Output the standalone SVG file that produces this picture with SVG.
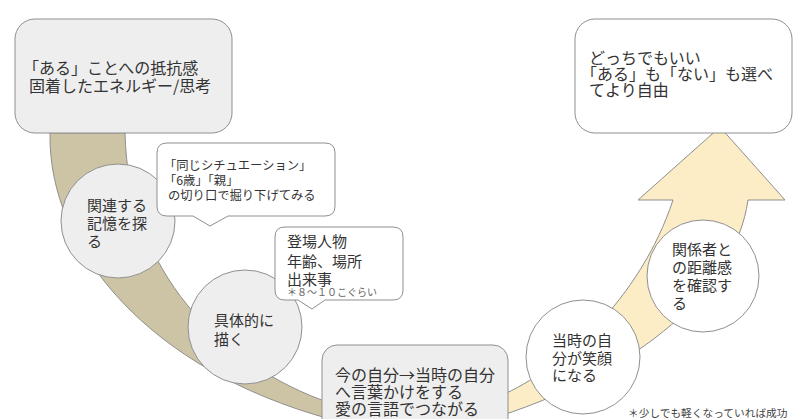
<svg xmlns="http://www.w3.org/2000/svg" width="800" height="419" viewBox="0 0 800 419">
<style>
  text { font-family: "Noto Sans CJK JP", "Noto Sans", sans-serif; fill: #333333; }
  .t16 { font-size: 16px; }
  .t15 { font-size: 15px; }
  .t12 { font-size: 12.3px; }
  .small { font-size: 10px; fill: #666666; }
  .foot { font-size: 10.7px; fill: #444444; }
  .gray { fill: #eeeeee; stroke: #8f8f8f; stroke-width: 1; }
  .white { fill: #ffffff; stroke: #8f8f8f; stroke-width: 1; }
  .band { fill: #cdc4a5; stroke: #8f8f8f; stroke-width: 1; }
  .arrow { fill: #fcedc6; stroke: #8f8f8f; stroke-width: 1; }
</style>
<rect width="800" height="419" fill="#ffffff"/>
<g id="connectors">
  <path class="band" d="M 50 133 C 48 250 150 370 330 419 L 330 403 C 220 365 128 270 125 133 Z"/>
  <path class="arrow" d="M 500 396 C 560 370 640 300 673 200 L 638 200 L 720 127 L 785 200 L 748 200 C 735 290 640 370 500 416 Z"/>
</g>
<g id="node-start">
  <rect class="gray" x="15" y="19" width="217" height="114" rx="20"/>
  <text class="t16" x="23" y="74">「ある」ことへの抵抗感</text>
  <text class="t16" x="29" y="92">固着したエネルギー/思考</text>
</g>
<g id="node-goal">
  <rect class="white" x="575" y="19" width="217" height="114" rx="20"/>
  <text class="t16" x="589" y="64">どっちでもいい</text>
  <text class="t16" x="581" y="80">「ある」も「ない」も選べ</text>
  <text class="t16" x="589" y="96">てより自由</text>
</g>
<g id="node-search">
  <circle class="gray" cx="118" cy="221" r="57"/>
  <text class="t15" x="87" y="211">関連する</text>
  <text class="t15" x="87" y="229">記憶を探</text>
  <text class="t15" x="87" y="247">る</text>
</g>
<g id="callout-search">
  <path class="white" d="M 167 143 H 325 Q 335 143 335 153 V 206 Q 335 216 325 216 H 228 L 210 226 L 193 216 H 167 Q 157 216 157 206 V 153 Q 157 143 167 143 Z"/>
  <text class="t12" x="164" y="170">「同じシチュエーション」</text>
  <text class="t12" x="164" y="185">「6歳」「親」</text>
  <text class="t12" x="168" y="200">の切り口で掘り下げてみる</text>
</g>
<g id="node-describe">
  <circle class="gray" cx="245" cy="327" r="57"/>
  <text class="t15" x="214" y="326">具体的に</text>
  <text class="t15" x="214" y="345">描く</text>
</g>
<g id="callout-describe">
  <path class="white" d="M 285 227 H 393 Q 403 227 403 237 V 290 Q 403 300 393 300 H 325 L 312 309 L 298 300 H 285 Q 275 300 275 290 V 237 Q 275 227 285 227 Z"/>
  <text class="t15" x="287" y="247">登場人物</text>
  <text class="t15" x="287" y="267">年齢、場所</text>
  <text class="t15" x="287" y="285">出来事</text>
  <text class="small" x="287" y="296">＊８～１０こぐらい</text>
</g>
<g id="node-talk">
  <rect class="gray" x="322" y="345" width="186" height="100" rx="15"/>
  <text class="t16" x="335" y="381">今の自分→当時の自分</text>
  <text class="t16" x="335" y="398">へ言葉かけをする</text>
  <text class="t16" x="335" y="415">愛の言語でつながる</text>
</g>
<g id="node-smile">
  <circle class="white" cx="583" cy="357" r="57"/>
  <text class="t15" x="552" y="346">当時の自</text>
  <text class="t15" x="552" y="364">分が笑顔</text>
  <text class="t15" x="552" y="381">になる</text>
</g>
<g id="node-distance">
  <circle class="white" cx="703" cy="276" r="56"/>
  <text class="t15" x="672" y="255">関係者と</text>
  <text class="t15" x="672" y="273">の距離感</text>
  <text class="t15" x="672" y="291">を確認す</text>
  <text class="t15" x="672" y="309">る</text>
</g>
<g id="footnote">
  <text class="foot" x="628" y="417">＊少しでも軽くなっていれば成功</text>
</g>
</svg>
